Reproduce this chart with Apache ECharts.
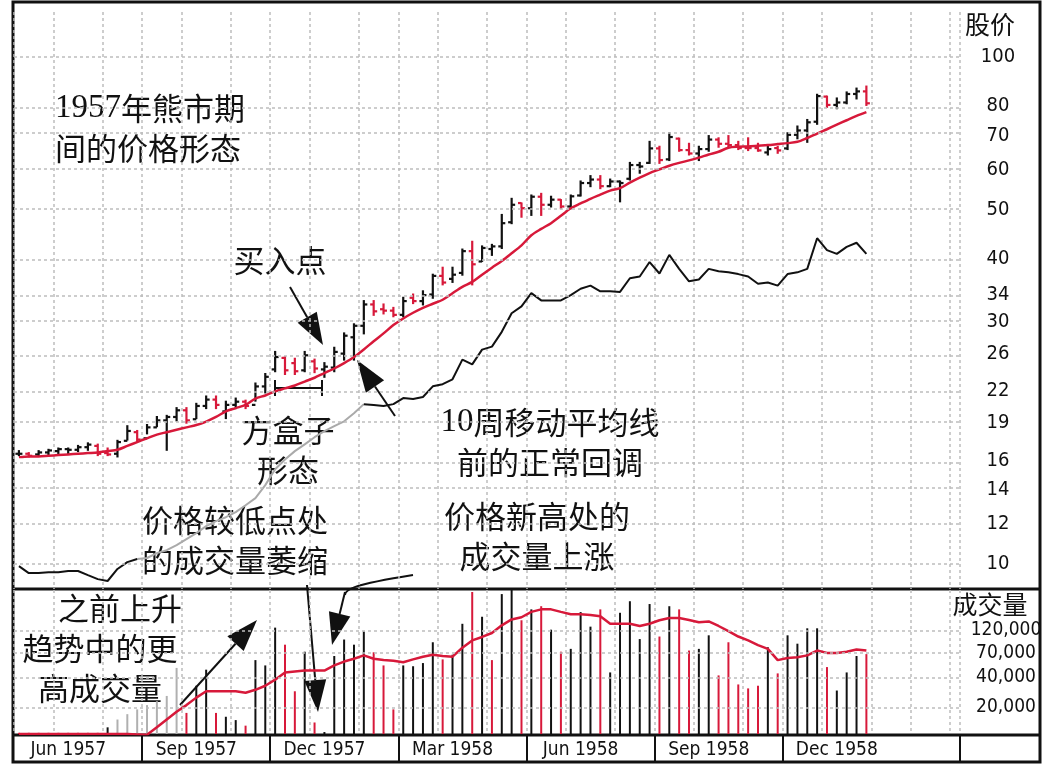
<!DOCTYPE html>
<html>
<head>
<meta charset="utf-8">
<script src="https://cdn.jsdelivr.net/npm/echarts@6/dist/echarts.min.js"></script>
<style>
  html, body { margin: 0; padding: 0; background: #fff; }
  #chart { width: 1051px; height: 768px; }
</style>
</head>
<body>
<div id="chart"></div>
<script>
// weekly bars, Jun 1957 - Dec 1958
const priceHigh = [16.7,16.55,16.7,16.8,16.9,16.9,17.1,17.3,17.2,16.9, 17.5,18.7,18.3,18.8,19.5,19.6,20.3,20.3,20.7,21.4,
  21.4,20.9,21.2,21.0,22.7,23.7,26.2,25.6,25.4,26.2, 25.3,24.9,26.7,28.5,29.7,33.0,33.0,32.5,32.0,33.5,
  34.0,34.5,37.2,38.4,38.4,41.7,43.2,42.3,42.6,48.8, 52.5,51.4,53.3,53.7,53.0,52.2,53.3,56.8,58.2,58.2,
  57.3,56.8,61.8,61.8,68.0,66.5,70.7,69.0,67.4,66.5, 69.8,69.1,69.8,68.0,69.1,67.4,66.5,66.5,70.7,72.9,
  75.1,84.2,83.5,82.8,85.1,86.6,87.4];
const priceLow = [16.4,16.3,16.4,16.45,16.55,16.55,16.7,16.8,16.4,16.4, 16.3,17.6,17.5,18.1,18.7,16.8,19.2,19.0,19.4,20.3,
  20.3,19.4,20.3,20.3,21.0,21.8,24.0,23.7,23.7,24.0, 23.9,23.4,24.0,25.3,25.3,28.5,31.0,31.2,30.8,30.8,
  32.7,32.5,33.5,35.6,36.0,37.2,35.6,39.6,40.7,42.0, 47.0,48.4,48.8,48.8,50.7,50.3,50.3,53.3,55.6,55.1,
  55.6,51.9,57.3,59.1,61.8,61.8,62.6,65.3,64.2,62.6, 65.3,66.5,66.5,65.8,65.5,65.3,64.2,64.7,65.8,69.1,
  68.0,73.8,79.7,79.2,81.0,82.8,80.4];
const priceOpen = [16.5,16.5,16.45,16.6,16.7,16.85,16.8,17.0,17.1,16.55, 16.5,17.5,18.2,17.7,18.6,19.2,19.5,20.1,19.3,20.5,
  21.1,20.0,20.6,20.9,20.6,22.4,24.2,25.5,24.9,24.1, 25.1,24.2,24.4,26.0,28.0,29.5,32.5,31.8,31.6,31.0,
  33.5,33.0,34.0,37.0,36.5,37.5,41.4,39.5,41.8,42.3, 47.2,51.5,50.3,53.0,51.1,52.3,50.7,53.3,56.4,57.3,
  55.6,56.8,57.5,61.2,61.8,66.0,62.8,69.0,65.5,64.5, 65.8,68.7,67.4,67.0,66.1,66.1,64.8,66.1,66.0,70.2,
  71.6,74.5,83.5,80.4,81.3,84.5,85.5];
const priceClose = [16.5,16.35,16.6,16.75,16.85,16.8,17.0,17.2,16.5,16.45, 17.4,18.3,17.6,18.6,19.2,19.5,20.1,19.2,20.5,21.1,
  20.6,20.6,20.9,20.5,22.4,23.4,25.6,24.1,24.0,25.8, 24.3,24.5,26.2,28.2,29.5,32.5,31.5,31.6,31.0,33.0,
  33.0,33.9,37.0,35.9,37.2,41.4,39.0,42.0,42.3,47.0, 51.1,50.3,53.0,51.1,52.3,50.7,53.1,56.4,57.3,55.6,
  56.8,56.4,61.2,60.8,66.0,62.6,69.5,65.5,64.5,65.8, 68.7,67.4,67.0,66.1,66.1,65.4,65.8,65.4,70.2,71.6,
  74.3,83.7,80.4,81.3,84.5,85.5,81.0];
const downWeeks = [1,8,9,12,17,20,23,27,28,30,36,37,38,40,43,46,51,53,55,59,65,67,68,71,72,73,74,75,77,82,86];

const ma10 = [16.25,16.3,16.3,16.35,16.4,16.45,16.5,16.55,16.6,16.7, 16.8,17.1,17.4,17.7,18.0,18.2,18.4,18.6,18.8,19.1,
  19.5,20.0,20.3,20.6,21.2,21.5,21.9,22.2,22.5,22.9, 23.3,23.8,24.3,24.9,25.6,26.5,27.5,28.5,29.6,30.5,
  31.3,32.0,32.6,33.2,34.2,35.2,36.0,37.2,38.4,39.6, 41.0,42.5,44.5,45.8,47.0,48.6,50.3,51.4,52.5,53.5,
  54.5,55.1,56.5,57.8,59.0,60.0,61.0,61.8,62.5,63.3, 64.2,65.0,66.2,66.5,66.6,66.8,67.0,67.3,67.6,68.0,
  69.2,70.6,72.0,73.5,75.0,76.5,77.8];

// relative strength line (plotted on the price scale)
const relStrength = [9.91,9.6,9.6,9.64,9.64,9.69,9.69,9.51,9.34,9.26, 9.78,10.09,10.23,10.28,10.51,10.65,10.9,11.2,11.51,11.88,
  12.15,12.37,12.66,13.06,13.49,14.31,15.38,16.08,16.7,17.22, 17.79,18.28,18.7,19.12,19.84,20.67,20.58,20.49,20.67,21.25,
  21.15,21.35,22.41,22.63,23.14,25.3,24.76,26.47,26.84,28.7, 31.22,32.22,34.21,33.1,33.1,33.1,33.9,34.9,35.4,34.5,
  34.5,34.4,36.6,36.9,39.4,37.4,40.7,38.2,36.1,36.4, 38.2,37.8,37.6,37.3,36.9,35.7,35.9,35.4,37.3,37.6,
  38.2,43.9,41.6,40.9,42.2,43.0,40.9];
const rsGrayFrom = 12, rsGrayTo = 35;

const volume = [11,11,11,11,11,11,11,11,11,12.5, 15,17,19,21,23,26,50,17.5,33,48,
  17.5,16,14.8,13,60,53,128,86,29,73, 14,11.2,66,97,86,117,72,53,19,53,
  52,56,91,61,68,140,294,165,60,280, 318,152,196,211,122,73,78,184,131,196,
  45,181,237,98,222,104,211,196,75,78, 107,42,91,34,31,33,81,44,107,88,
  126,126,51,29.5,45,66,69]; // thousands
const volRed = [0,1,2,3,4,5,6,7,8,17,20,23,27,28,30,36,37,38,43,46,48,51,53,55,59,65,67,68,71,72,73,74,75,77,82,86];
const volGray = [10,11,12,13,14,15,16];
const volMA = [10.7,10.7,10.7,10.7,10.7,10.7,10.7,10.7,10.7,10.7, 10.7,10.7,10.6,10.5,12.5,15,18,21,25,29,
  29,29,29,28,30,33,38,45,46,47, 47,47,53,58,62,67,62,60,59,57,
  61,65,68,66,65,80,95,103,113,135, 155,163,185,196,196,185,175,175,172,167,
  140,140,140,133,140,152,160,160,153,145, 148,133,118,104,95,85,78,60,63,64,
  67,75,71,71,73,77,75];

const priceTicks = [100,80,70,60,50,40,34,30,26,22,19,16,14,12,10];
const volTicks = [120000,70000,40000,20000];
const quarterLabels = ['Jun 1957','Sep 1957','Dec 1957','Mar 1958','Jun 1958','Sep 1958','Dec 1958'];

const SLOTS = 96;
const RED = '#d7193a';
const lg = v => Math.log10(v);
const cats = Array.from({ length: SLOTS }, (_, i) => i);
const monthEdge = i => [0, 4, 9].includes(i % 13);
const NARROW = '"DejaVu Sans Condensed", "Liberation Sans Narrow", "Liberation Sans", sans-serif';
const labelFont = { fontFamily: NARROW, fontSize: 19, color: '#111' };
const cjk = 'Noto Sans CJK SC';

const chart = echarts.init(document.getElementById('chart'));

const ohlc = priceHigh.map((h, i) => [i, lg(priceOpen[i]), lg(h), lg(priceLow[i]), lg(priceClose[i])]);

const dashed = { show: true, lineStyle: { color: '#bdbdbd', type: [3, 3], width: 1.5 } };

const text = (x, y, t, align) => ({
  type: 'text', x, y,
  style: {
    text: t, font: `31px "${cjk}"`, fill: '#111', align: align || 'center', lineHeight: 40,
    rich: { s: { fontFamily: 'Liberation Serif', fontSize: 33, lineHeight: 40 } },
  },
});
const arrow = (x1, y1, x2, y2) => {
  const a = Math.atan2(y2 - y1, x2 - x1), L = 32, W = 11;
  const bx = x2 - L * Math.cos(a), by = y2 - L * Math.sin(a);
  return [
    { type: 'line', shape: { x1, y1, x2: bx, y2: by }, style: { stroke: '#111', lineWidth: 2 } },
    { type: 'polygon', shape: { points: [[x2, y2], [bx - W * Math.sin(a), by + W * Math.cos(a)], [bx + W * Math.sin(a), by - W * Math.cos(a)]] }, style: { fill: '#111' } },
  ];
};

chart.setOption({
  animation: false,
  grid: [
    { left: 14, right: 91, top: 12, height: 577 },
    { left: 14, right: 91, top: 590, height: 144 },
  ],
  xAxis: [
    {
      type: 'category', gridIndex: 0, data: cats,
      axisLine: { show: false }, axisTick: { show: false }, axisLabel: { show: false },
      splitLine: { ...dashed, interval: i => monthEdge(i) },
    },
    {
      type: 'category', gridIndex: 1, data: cats,
      axisLine: { show: false },
      axisTick: { show: true, length: 28, interval: i => i % 13 === 0 && i > 0 && i < 80, lineStyle: { color: '#111', width: 2 } },
      axisLabel: {
        ...labelFont, margin: 7,
        interval: i => i % 13 === 5,
        formatter: (v, i) => quarterLabels[Math.floor(i / 13)] || '',
      },
      splitLine: { ...dashed, interval: i => monthEdge(i) },
    },
  ],
  yAxis: [
    {
      type: 'value', gridIndex: 0, position: 'right', min: lg(8.93), max: lg(122.6),
      axisLine: { show: false }, axisTick: { show: false }, splitLine: { show: false },
      axisLabel: { ...labelFont, fontSize: 20, align: 'center', margin: 38, customValues: priceTicks.map(lg), formatter: v => String(Math.round(Math.pow(10, v))) },
    },
    {
      type: 'value', gridIndex: 1, position: 'right', min: lg(10700), max: lg(308000),
      axisLine: { show: false }, axisTick: { show: false }, splitLine: { show: false },
      axisLabel: { ...labelFont, align: 'center', margin: 46, customValues: volTicks.map(lg), formatter: v => (Math.round(Math.pow(10, v) / 1000) * 1000).toLocaleString('en-US') },
    },
  ],
  series: [
    {
      type: 'line', xAxisIndex: 0, yAxisIndex: 0, data: [], silent: true,
      markLine: { symbol: 'none', silent: true, label: { show: false }, lineStyle: { color: '#bdbdbd', type: [3, 3], width: 1.5 }, data: priceTicks.map(p => ({ yAxis: lg(p) })) },
    },
    {
      type: 'line', xAxisIndex: 1, yAxisIndex: 1, data: [], silent: true,
      markLine: { symbol: 'none', silent: true, label: { show: false }, lineStyle: { color: '#bdbdbd', type: [3, 3], width: 1.5 }, data: volTicks.map(p => ({ yAxis: lg(p) })) },
    },
    {
      name: 'RS gray', type: 'line', xAxisIndex: 0, yAxisIndex: 0, showSymbol: false,
      lineStyle: { color: '#aaa', width: 2 },
      data: relStrength.map((v, i) => (i >= rsGrayFrom && i <= rsGrayTo ? [i, lg(v)] : [i, null])),
    },
    {
      name: 'RS', type: 'line', xAxisIndex: 0, yAxisIndex: 0, showSymbol: false, connectNulls: false,
      lineStyle: { color: '#111', width: 2 },
      data: relStrength.map((v, i) => (i <= rsGrayFrom || i >= rsGrayTo ? [i, lg(v)] : [i, null])),
    },
    {
      name: '10周均线', type: 'line', xAxisIndex: 0, yAxisIndex: 0, showSymbol: false, smooth: 0.3,
      lineStyle: { color: RED, width: 2.5 },
      data: ma10.map((v, i) => [i, lg(v)]),
    },
    {
      name: '股价', type: 'custom', xAxisIndex: 0, yAxisIndex: 0, data: ohlc,
      renderItem: (params, api) => {
        const i = api.value(0);
        const o = api.coord([i, api.value(1)]), h = api.coord([i, api.value(2)]);
        const l = api.coord([i, api.value(3)]), c = api.coord([i, api.value(4)]);
        const col = downWeeks.includes(i) ? RED : '#111';
        const st = { stroke: col, lineWidth: 2.2 };
        return {
          type: 'group', children: [
            { type: 'line', shape: { x1: h[0], y1: h[1] - 1, x2: l[0], y2: l[1] + 1 }, style: st },
            { type: 'line', shape: { x1: o[0] - 3.5, y1: o[1], x2: o[0], y2: o[1] }, style: st },
            { type: 'line', shape: { x1: c[0], y1: c[1], x2: c[0] + 3.5, y2: c[1] }, style: st },
          ],
        };
      },
    },
    {
      name: '成交量', type: 'bar', xAxisIndex: 1, yAxisIndex: 1, barWidth: 2,
      data: volume.map((v, i) => ({
        value: lg(v * 1000),
        itemStyle: { color: volGray.includes(i) ? '#b0b0b0' : volRed.includes(i) ? RED : '#111' },
      })),
    },
    {
      name: '成交量均线', type: 'line', xAxisIndex: 1, yAxisIndex: 1, showSymbol: false,
      lineStyle: { color: RED, width: 2.5 },
      data: volMA.map((v, i) => [i, lg(v * 1000)]),
    },
  ],
  graphic: [
    { type: 'rect', shape: { x: 13, y: 2, width: 1027, height: 760 }, style: { fill: null, stroke: '#111', lineWidth: 3 } },
    { type: 'line', shape: { x1: 13, y1: 589, x2: 1040, y2: 589 }, style: { stroke: '#111', lineWidth: 3 } },
    { type: 'line', shape: { x1: 13, y1: 735, x2: 1040, y2: 735 }, style: { stroke: '#111', lineWidth: 3 } },
    { type: 'text', x: 990, y: 12, style: { text: '股价', font: `25px "${cjk}"`, fill: '#111', align: 'center' } },
    { type: 'text', x: 990, y: 592, style: { text: '成交量', font: `25px "${cjk}"`, fill: '#111', align: 'center' } },
    text(55, 88, '{s|1957}年熊市期\n间的价格形态', 'left'),
    text(280, 240, '买入点'),
    text(288, 410, '方盒子\n形态'),
    text(550, 402, '{s|10}周移动平均线\n前的正常回调'),
    text(235, 500, '价格较低点处\n的成交量萎缩'),
    text(537, 496, '价格新高处的\n成交量上涨'),
    text(120, 588, '之前上升'),
    text(100, 628, '趋势中的更\n高成交量'),
    { type: 'line', shape: { x1: 275, y1: 388, x2: 322, y2: 388 }, style: { stroke: '#111', lineWidth: 2 } },
    { type: 'line', shape: { x1: 275, y1: 380, x2: 275, y2: 396 }, style: { stroke: '#111', lineWidth: 2 } },
    { type: 'line', shape: { x1: 322, y1: 380, x2: 322, y2: 396 }, style: { stroke: '#111', lineWidth: 2 } },
    ...arrow(290, 287, 323, 345),
    ...arrow(395, 416, 357, 360),
    ...arrow(307, 585, 318, 712),
    ...arrow(180, 705, 257, 620),
    { type: 'bezierCurve', shape: { x1: 413, y1: 575, x2: 345, y2: 595, cpx1: 350, cpy1: 585, cpx2: 345, cpy2: 590 }, style: { stroke: '#111', lineWidth: 2, fill: null } },
    ...arrow(345, 592, 332, 645),
  ],
});
</script>
</body>
</html>
